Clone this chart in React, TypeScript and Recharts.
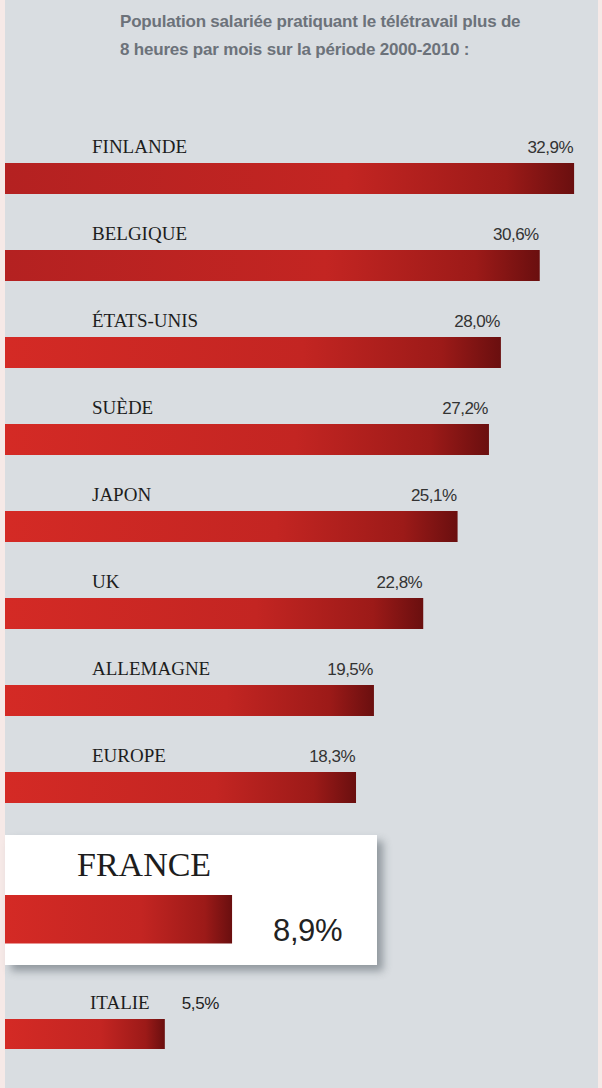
import { BarChart, Bar, XAxis, YAxis, LabelList, Cell } from "recharts"

// part des salariés en télétravail (> 8 h / mois), 2000-2010
const countries = ["FINLANDE", "BELGIQUE", "ÉTATS-UNIS", "SUÈDE", "JAPON", "UK", "ALLEMAGNE", "EUROPE"]
const shares = [32.9, 30.6, 28.0, 27.2, 25.1, 22.8, 19.5, 18.3]
const focusCountry = ["FRANCE"]
const focusShare = [8.9]
const lastCountry = ["ITALIE"]
const lastShare = [5.5]

// axe tronqué : les barres partent de cette valeur (bord gauche)
const AXIS_START = -5.2
const AXIS_END = 34.5
const FOCUS_END = 17.9

const SERIF = "'Liberation Serif', 'Times New Roman', serif"
const SANS = "'Liberation Sans', Arial, sans-serif"

const toRows = (names: string[], vals: number[]) => names.map((name, i) => ({ name, value: vals[i] }))
const fmt = (v: number) => v.toFixed(1).replace(".", ",") + "%"
const range = (d: { value: number }) => [AXIS_START, d.value]

const GradDef = ({ id, from }: { id: string; from: string }) => (
  <linearGradient id={id} x1="0" y1="0" x2="1" y2="0">
    <stop offset="0%" stopColor={from} />
    <stop offset="60%" stopColor="#c32522" />
    <stop offset="88%" stopColor="#9c1a18" />
    <stop offset="100%" stopColor="#6a0f0f" />
  </linearGradient>
)

const nameLabel = (dx: number, dy: number, size: number) => (p: any) => (
  <text x={p.x + dx} y={p.y - dy} fontFamily={SERIF} fontSize={size} fill="#1d1d1d">{p.value}</text>
)

const valueEnd = (p: any) => (
  <text x={p.x + p.width - 1} y={p.y - 10} textAnchor="end" fontFamily={SANS} fontSize={17} fill="#333" letterSpacing={-0.5}>
    {fmt(p.value)}
  </text>
)

const valueAfter = (dx: number, dy: number, size: number) => (p: any) => (
  <text x={p.x + p.width + dx} y={p.y + dy} fontFamily={SANS} fontSize={size} fill="#222" letterSpacing={-0.4}>
    {fmt(p.value)}
  </text>
)

export default function App() {
  const main = toRows(countries, shares)
  const focus = toRows(focusCountry, focusShare)
  const last = toRows(lastCountry, lastShare)

  return (
    <div style={{ position: "absolute", left: 0, top: 0, width: 602, height: 1088, background: "#d9dde1", overflow: "hidden" }}>
      <div style={{ position: "absolute", left: 0, top: 0, width: 5, height: 1088, background: "#f6e9e7" }} />
      <div style={{ position: "absolute", right: 0, top: 0, width: 4, height: 1088, background: "#f6e9e7" }} />

      <div style={{ position: "absolute", left: 120, top: 8, fontFamily: SANS, fontWeight: "bold", fontSize: 17, lineHeight: "28px", color: "#6c727a", letterSpacing: -0.2 }}>
        Population salariée pratiquant le télétravail plus de<br />
        8 heures par mois sur la période 2000-2010 :
      </div>

      <div style={{ position: "absolute", left: 0, top: 135 }}>
        <BarChart width={602} height={696} data={main} layout="vertical" margin={{ top: 0, right: 4, bottom: 0, left: 5 }}>
          <defs>
            <GradDef id="gDark" from="#b42121" />
            <GradDef id="gMain" from="#d42a25" />
          </defs>
          <XAxis type="number" domain={[AXIS_START, AXIS_END]} hide allowDataOverflow />
          <YAxis type="category" dataKey="name" hide />
          <Bar dataKey={range} barSize={31} isAnimationActive={false}>
            {main.map((r, i) => <Cell key={r.name} fill={i < 2 ? "url(#gDark)" : "url(#gMain)"} />)}
            <LabelList dataKey="name" content={nameLabel(87, 10, 19)} />
            <LabelList dataKey="value" content={valueEnd} />
          </Bar>
        </BarChart>
      </div>

      <div style={{ position: "absolute", left: 5, top: 835, width: 372, height: 130, background: "#fff", boxShadow: "6px 6px 8px rgba(60,70,80,0.45)" }}>
        <BarChart width={372} height={130} data={focus} layout="vertical" margin={{ top: 57, right: 0, bottom: 19, left: 0 }}>
          <defs>
            <GradDef id="gFocus" from="#d42a25" />
          </defs>
          <XAxis type="number" domain={[AXIS_START, FOCUS_END]} hide allowDataOverflow />
          <YAxis type="category" dataKey="name" hide />
          <Bar dataKey={range} barSize={54} fill="url(#gFocus)" isAnimationActive={false}>
            <LabelList dataKey="name" content={nameLabel(72, 19, 34)} />
            <LabelList dataKey="value" content={valueAfter(41, 46, 31)} />
          </Bar>
        </BarChart>
      </div>

      <div style={{ position: "absolute", left: 0, top: 974 }}>
        <BarChart width={602} height={90} data={last} layout="vertical" margin={{ top: 30, right: 4, bottom: 0, left: 5 }}>
          <defs>
            <GradDef id="gLast" from="#d42a25" />
          </defs>
          <XAxis type="number" domain={[AXIS_START, AXIS_END]} hide allowDataOverflow />
          <YAxis type="category" dataKey="name" hide />
          <Bar dataKey={range} barSize={30} fill="url(#gLast)" isAnimationActive={false}>
            <LabelList dataKey="name" content={nameLabel(85, 10, 19)} />
            <LabelList dataKey="value" content={valueAfter(17, -10, 17)} />
          </Bar>
        </BarChart>
      </div>
    </div>
  )
}
